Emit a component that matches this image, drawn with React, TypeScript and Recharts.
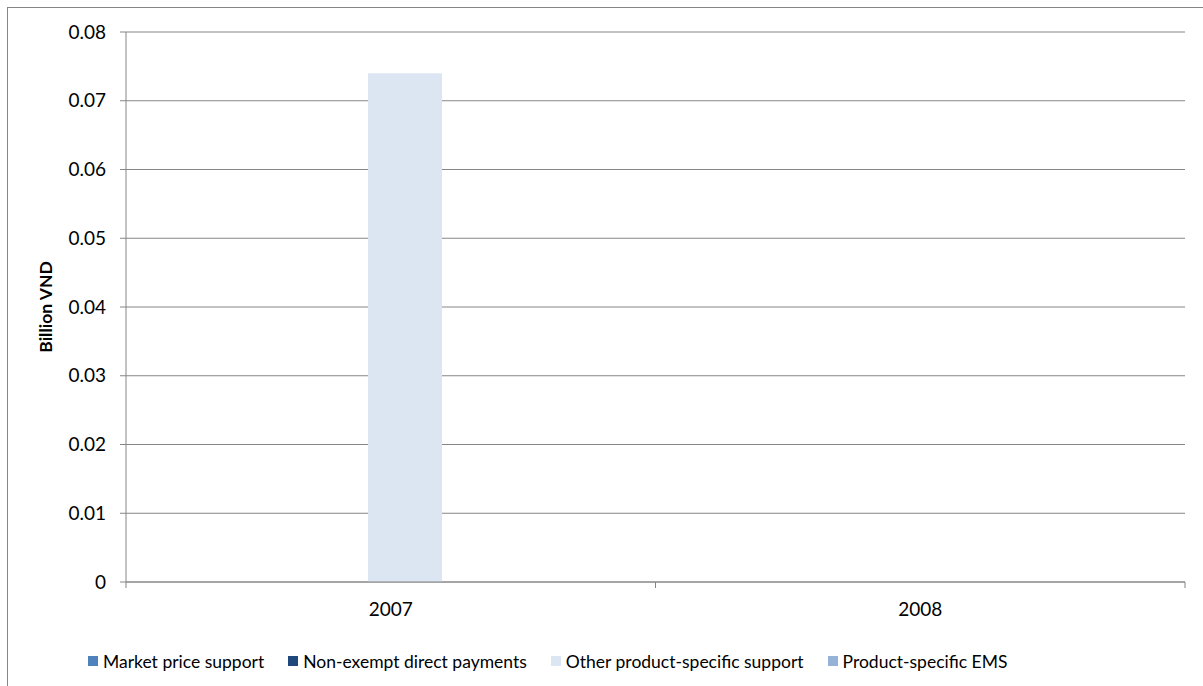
import React from 'react';
import { BarChart, Bar, XAxis, YAxis, CartesianGrid, Legend } from 'recharts';

const categories = ['2007', '2008'];
const marketPriceSupport = [0, 0];
const nonExemptDirectPayments = [0, 0];
const otherProductSpecificSupport = [0.074, 0];
const productSpecificEMS = [0, 0];
const yTicks = [0, 0.01, 0.02, 0.03, 0.04, 0.05, 0.06, 0.07, 0.08];

const seriesNames = [
  'Market price support',
  'Non-exempt direct payments',
  'Other product-specific support',
  'Product-specific EMS',
];
const seriesKeys = ['mps', 'nedp', 'opss', 'ems'];
const seriesColors = ['#4F81BD', '#1F497D', '#DCE6F2', '#95B3D7'];

const data = categories.map((c, i) => ({
  year: c,
  mps: marketPriceSupport[i],
  nedp: nonExemptDirectPayments[i],
  opss: otherProductSpecificSupport[i],
  ems: productSpecificEMS[i],
}));

const FONT = "Lato, 'Open Sans', sans-serif";
const GRAY = '#868686';

const XTick = (props: any) => {
  const { x, y, payload, index, visibleTicksCount } = props;
  const half = payload && typeof payload.offset === 'number' ? payload.offset : 264.75;
  const last = index === visibleTicksCount - 1;
  return (
    <g>
      <line x1={x - half} x2={x - half} y1={y} y2={y + 6} stroke={GRAY} strokeWidth={1} />
      {last && <line x1={x + half} x2={x + half} y1={y} y2={y + 6} stroke={GRAY} strokeWidth={1} />}
      <text x={x} y={y + 26} textAnchor="middle" dominantBaseline="central" fontFamily={FONT} fontSize={19} fill="#000">
        {payload.value}
      </text>
    </g>
  );
};

const LegendContent = (props: any) => {
  const payload = props.payload || [];
  return (
    <div style={{ display: 'flex', alignItems: 'center', height: 24, paddingLeft: 88, fontFamily: FONT, fontSize: 17.5, color: '#000' }}>
      {payload.map((p: any, i: number) => (
        <div key={i} style={{ display: 'flex', alignItems: 'center', marginRight: 24 }}>
          <span style={{ display: 'inline-block', width: 10, height: 10, background: p.color, marginRight: 5 }} />
          <span style={{ whiteSpace: 'nowrap' }}>{p.value}</span>
        </div>
      ))}
    </div>
  );
};

const YLabel = (props: any) => {
  const vb = props.viewBox || { y: 32, height: 550 };
  const cy = vb.y + vb.height / 2;
  return (
    <text x={45} y={cy} transform={`rotate(-90, 45, ${cy})`} textAnchor="middle" dominantBaseline="central" fontFamily={FONT} fontSize={17.5} fontWeight="bold" fill="#000">
      Billion VND
    </text>
  );
};

export default function App() {
  return (
    <div style={{ position: 'absolute', left: 0, top: 0, width: 1203, height: 686, background: '#fff', overflow: 'hidden' }}>
      <div style={{ position: 'absolute', left: 7, top: 7, width: 1250, height: 720, borderTop: `1px solid ${GRAY}`, borderLeft: `1px solid ${GRAY}` }} />
      <BarChart
        width={1203}
        height={686}
        data={data}
        margin={{ top: 32, right: 18, left: 0, bottom: 13 }}
        barSize={74}
        barGap={-45.5}
      >
        <CartesianGrid horizontal={true} vertical={false} stroke={GRAY} strokeWidth={1} />
        <XAxis
          dataKey="year"
          interval={0}
          height={67}
          tickSize={0}
          tickMargin={0}
          tickLine={false}
          axisLine={{ stroke: GRAY, strokeWidth: 1 }}
          tick={<XTick />}
        />
        <YAxis
          width={126}
          domain={[0, 0.08]}
          ticks={yTicks}
          interval={0}
          tickSize={6}
          tickMargin={14}
          tickLine={{ stroke: GRAY }}
          axisLine={{ stroke: GRAY, strokeWidth: 1 }}
          tickFormatter={(v: number) => String(v)}
          tick={{ fontFamily: FONT, fontSize: 19, fill: '#000' }}
          label={<YLabel />}
        />
        <Legend content={<LegendContent />} wrapperStyle={{ left: 0, width: 1203, height: 24, bottom: 13 }} />
        {seriesKeys.map((k, i) => (
          <Bar key={k} dataKey={k} name={seriesNames[i]} fill={seriesColors[i]} isAnimationActive={false} />
        ))}
      </BarChart>
    </div>
  );
}
